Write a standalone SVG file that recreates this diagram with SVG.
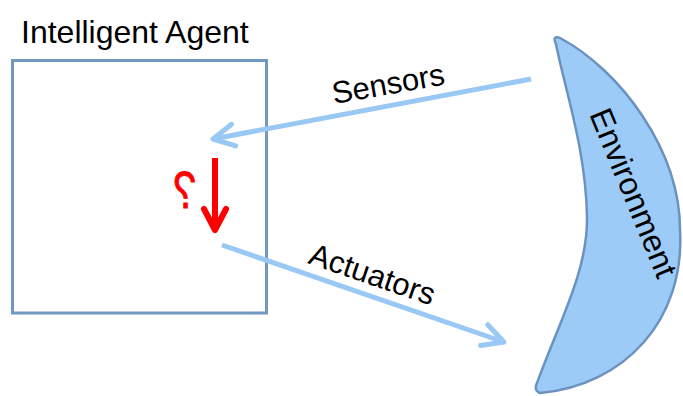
<svg xmlns="http://www.w3.org/2000/svg" width="683" height="396" viewBox="0 0 683 396">
  <defs>
    <style>
      .label { font-family: "Liberation Sans", Arial, sans-serif; fill: #000; }
      .flow { fill: none; stroke: #99C8F5; stroke-width: 5; }
      .box { fill: #fff; stroke: #7297C1; stroke-width: 3; }
      .env { fill: #9CCBF8; stroke: #6C92BE; stroke-width: 2.5; }
    </style>
    <marker id="head-blue" markerUnits="userSpaceOnUse" viewBox="-28 -16 32 32" markerWidth="32" markerHeight="32" refX="0" refY="0" orient="auto">
      <path d="M-21,-11 L0,0 L-21,11" fill="none" stroke="#99C8F5" stroke-width="5" stroke-linecap="round" stroke-linejoin="round"/>
    </marker>
    <marker id="head-red" markerUnits="userSpaceOnUse" viewBox="-28 -16 32 32" markerWidth="32" markerHeight="32" refX="0" refY="0" orient="auto">
      <path d="M-21,-11 L0,0 L-21,11" fill="none" stroke="#FF0000" stroke-width="6" stroke-linecap="round" stroke-linejoin="round"/>
    </marker>
  </defs>

  <rect width="683" height="396" fill="#fff"/>

  <!-- agent box with its title -->
  <g id="agent">
    <text class="label" x="21" y="43" font-size="32">Intelligent Agent</text>
    <rect class="box" x="12.5" y="60.5" width="254" height="252.5"/>
    <!-- decision step inside the agent: a mirrored question mark -->
    <text class="label" x="0" y="0" font-size="52" style="fill:#FF0000" stroke="#FF0000" stroke-width="0.8" text-anchor="middle" transform="translate(185,208) scale(-0.8,1)">?</text>
    <line x1="215" y1="158" x2="215" y2="230" stroke="#FF0000" stroke-width="6" marker-end="url(#head-red)"/>
  </g>

  <!-- crescent-shaped environment -->
  <g id="environment">
    <path class="env" d="M556,44 C553,38 555,36 560,38 C620,70 680,150 680,230 C685,320 625,385 540,393 C535,391 535,387 537,383 C560,320 588,270 587,217 C586,150 565,90 556,44 Z"/>
    <text class="label" font-size="32" transform="translate(589,114) rotate(67.5)">Environment</text>
  </g>

  <!-- percept and action flows -->
  <g id="connectors">
    <line class="flow" x1="531" y1="79" x2="213" y2="139" marker-end="url(#head-blue)"/>
    <text class="label" font-size="31" transform="translate(334,104) rotate(-10)">Sensors</text>
    <line class="flow" x1="222" y1="245" x2="504" y2="342" marker-end="url(#head-blue)"/>
    <text class="label" font-size="31" transform="translate(307,263) rotate(19)">Actuators</text>
  </g>
</svg>
